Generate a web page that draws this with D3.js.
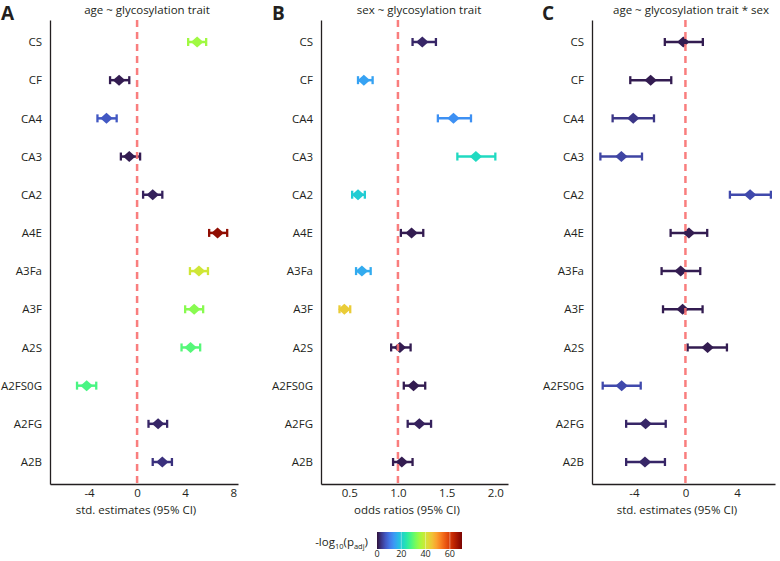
<!DOCTYPE html>
<html><head><meta charset="utf-8">
<script src="https://cdn.jsdelivr.net/npm/d3@7"></script>
<style>body{margin:0;background:#fff}text{font-family:"Open Sans","Noto Sans",sans-serif;fill:#231f20}</style>
</head><body><svg id="c" width="780" height="561"></svg>
<script>
const traits = ["CS","CF","CA4","CA3","CA2","A4E","A3Fa","A3F","A2S","A2FS0G","A2FG","A2B"];
// Panel A: age ~ glycosylation trait (std. estimates)
const estA = [5.0,-1.5,-2.55,-0.65,1.3,6.7,5.15,4.75,4.45,-4.2,1.75,2.1];
const loA  = [4.25,-2.25,-3.3,-1.35,0.5,6.0,4.4,4.0,3.7,-5.0,0.95,1.3];
const hiA  = [5.75,-0.65,-1.7,0.25,2.1,7.5,5.9,5.5,5.25,-3.4,2.5,2.9];
const pA   = [35,1,7,1,1.5,68,40,33,29,28,2,3];
// Panel B: sex ~ glycosylation trait (odds ratios)
const estB = [1.25,0.65,1.57,1.8,0.59,1.14,0.63,0.45,1.02,1.16,1.22,1.04];
const loB  = [1.15,0.59,1.41,1.61,0.53,1.03,0.57,0.40,0.93,1.06,1.10,0.95];
const hiB  = [1.39,0.74,1.75,2.0,0.66,1.26,0.72,0.51,1.13,1.28,1.34,1.15];
const pB   = [2,15,13,22,20,1,16,44,1,1,1.5,1];
// Panel C: age ~ glycosylation trait * sex (std. estimates)
const estC = [-0.17,-2.7,-4.05,-4.97,5.02,0.27,-0.37,-0.22,1.72,-4.95,-3.09,-3.14];
const loC  = [-1.6,-4.28,-5.65,-6.6,3.45,-1.15,-1.85,-1.74,0.17,-6.42,-4.6,-4.6];
const hiC  = [1.35,-1.1,-2.44,-3.37,6.63,1.69,1.15,1.33,3.22,-3.47,-1.53,-1.59];
const pC   = [1,1,3.5,5,5.5,1,1,1,1,5.5,2,2];
const ticksA = [-4,0,4,8], ticksB = [0.5,1.0,1.5,2.0], ticksC = [-4,0,4];
const cbTicks = [0,20,40,60];
// turbo palette anchors (15 evenly spaced colours)
const turboStops = ["#30123b","#4145ab","#4675ed","#39a2fc","#1bcfd4","#24eca6","#61fc6c","#a4fc3b",
                    "#d1e834","#f3c63a","#fe9b2d","#f36315","#d93806","#b11901","#7a0403"];

const svg = d3.select("#c");
const turbo = d3.interpolateRgbBasis(turboStops);
const color = d3.scaleSequential(turbo).domain([0,70]);
const y = d3.scalePoint().domain(traits).range([20,484]).padding(0.576);

const panels = [
  {letter:"A", lx:1, title:"age ~ glycosylation trait", tx:147, xlab:"std. estimates (95% CI)", xlx:136,
   x:d3.scaleLinear().domain([-7.25,8.4]).range([50,238]), ticks:ticksA, fmt:d=>String(d), ref:0,
   est:estA, lo:loA, hi:hiA, p:pA},
  {letter:"B", lx:272, title:"sex ~ glycosylation trait", tx:419, xlab:"odds ratios (95% CI)", xlx:407,
   x:d3.scaleLinear().domain([0.21,2.13]).range([321,508]), ticks:ticksB, fmt:d3.format(".1f"), ref:1,
   est:estB, lo:loB, hi:hiB, p:pB},
  {letter:"C", lx:542, title:"age ~ glycosylation trait * sex", tx:691, xlab:"std. estimates (95% CI)", xlx:677,
   x:d3.scaleLinear().domain([-7.25,6.95]).range([592,775]), ticks:ticksC, fmt:d=>String(d), ref:0,
   est:estC, lo:loC, hi:hiC, p:pC}
];

panels.forEach(P => {
  const g = svg.append("g");
  g.append("text").attr("x",P.lx).attr("y",20).attr("font-size",19).attr("font-weight","bold").text(P.letter);
  g.append("text").attr("x",P.tx).attr("y",14).attr("text-anchor","middle").attr("font-size",11.5).text(P.title);
  const x0 = P.x.range()[0];
  const ya = g.append("g").attr("transform",`translate(${x0},0)`)
    .call(d3.axisLeft(y).tickSize(0).tickSizeOuter(0).tickPadding(8));
  ya.select(".domain").attr("stroke","#231f20").attr("stroke-width",1.3);
  ya.selectAll("text").attr("font-size",11.5).attr("font-family",null);
  const xa = g.append("g").attr("transform","translate(0,484)")
    .call(d3.axisBottom(P.x).tickValues(P.ticks).tickFormat(P.fmt).tickSize(0).tickSizeOuter(0).tickPadding(5));
  xa.select(".domain").attr("stroke","#231f20").attr("stroke-width",1.3);
  xa.selectAll("text").attr("font-size",11.5).attr("font-family",null);
  g.append("text").attr("x",P.xlx).attr("y",514).attr("text-anchor","middle").attr("font-size",11.5).text(P.xlab);

  const rows = traits.map((t,i)=>({t, e:P.est[i], lo:P.lo[i], hi:P.hi[i], c:color(P.p[i])}));
  const m = g.append("g").selectAll("g").data(rows).join("g");
  m.append("line").attr("x1",d=>P.x(d.lo)).attr("x2",d=>P.x(d.hi)).attr("y1",d=>y(d.t)).attr("y2",d=>y(d.t))
    .attr("stroke",d=>d.c).attr("stroke-width",2.5);
  ["lo","hi"].forEach(k=>{
    m.append("line").attr("x1",d=>P.x(d[k])).attr("x2",d=>P.x(d[k]))
      .attr("y1",d=>y(d.t)-4).attr("y2",d=>y(d.t)+4).attr("stroke",d=>d.c).attr("stroke-width",2.3);
  });
  m.append("path").attr("d","M0,-5.5L6.2,0L0,5.5L-6.2,0Z")
    .attr("transform",d=>`translate(${P.x(d.e)},${y(d.t)})`).attr("fill",d=>d.c);
  g.append("line").attr("x1",P.x(P.ref)).attr("x2",P.x(P.ref)).attr("y1",20).attr("y2",484)
    .attr("stroke","#f87070").attr("stroke-opacity",0.9).attr("stroke-width",2.5).attr("stroke-dasharray","7,5");
});

// colour bar
const cb = d3.scaleLinear().domain([0,70]).range([377,462]);
const defs = svg.append("defs");
const grad = defs.append("linearGradient").attr("id","turbo");
d3.range(0,1.0001,0.05).forEach(t=>grad.append("stop").attr("offset",t).attr("stop-color",turbo(t)));
svg.append("rect").attr("x",cb(0)).attr("y",532).attr("width",cb(70)-cb(0)).attr("height",17)
  .attr("fill","url(#turbo)");
svg.selectAll(".cbt").data(cbTicks.slice(1)).join("line").attr("x1",d=>cb(d)).attr("x2",d=>cb(d))
  .attr("y1",532).attr("y2",549).attr("stroke","#fff").attr("stroke-opacity",0.5).attr("stroke-width",0.8);
svg.selectAll(".cbl").data(cbTicks).join("text").attr("x",d=>cb(d)).attr("y",557).attr("text-anchor","middle")
  .attr("font-size",9).text(d=>d);
const lab = svg.append("text").attr("x",368).attr("y",546).attr("text-anchor","end").attr("font-size",11.5);
lab.append("tspan").text("-log");
lab.append("tspan").attr("font-size",7.5).attr("dy",3).text("10");
lab.append("tspan").attr("dy",-3).text("(p");
lab.append("tspan").attr("font-size",7.5).attr("dy",3).text("adj");
lab.append("tspan").attr("dy",-3).text(")");
</script></body></html>
